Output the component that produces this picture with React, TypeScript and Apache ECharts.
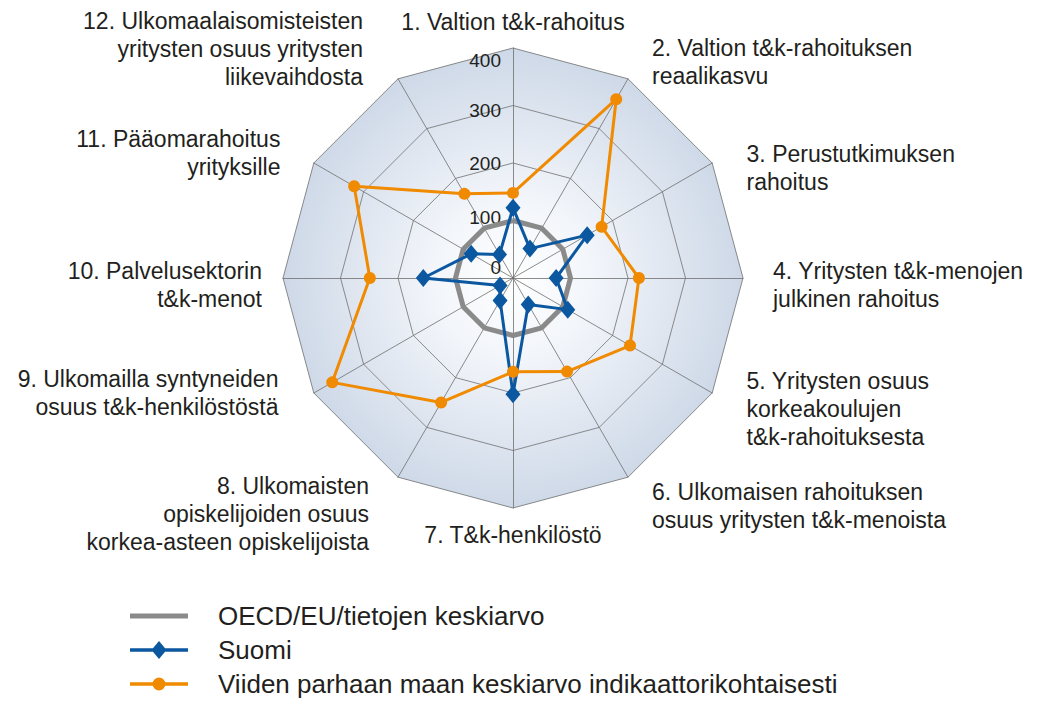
import React, { useEffect, useRef } from 'react';
import * as echarts from 'echarts';

const indicatorNames = [
  '1. Valtion t&k-rahoitus',
  '2. Valtion t&k-rahoituksen\nreaalikasvu',
  '3. Perustutkimuksen\nrahoitus',
  '4. Yritysten t&k-menojen\njulkinen rahoitus',
  '5. Yritysten osuus\nkorkeakoulujen\nt&k-rahoituksesta',
  '6. Ulkomaisen rahoituksen\nosuus yritysten t&k-menoista',
  '7. T&k-henkilöstö',
  '8. Ulkomaisten\nopiskelijoiden osuus\nkorkea-asteen opiskelijoista',
  '9. Ulkomailla syntyneiden\nosuus t&k-henkilöstöstä',
  '10. Palvelusektorin\nt&k-menot',
  '11. Pääomarahoitus\nyrityksille',
  '12. Ulkomaalaisomisteisten\nyritysten osuus yritysten\nliikevaihdosta',
];

const seriesNames = [
  'OECD/EU/tietojen keskiarvo',
  'Suomi',
  'Viiden parhaan maan keskiarvo indikaattorikohtaisesti',
];

const oecdValues = [100, 100, 100, 100, 100, 100, 100, 100, 100, 100, 100, 100];
const suomiValues = [122, 59, 149, 75, 110, 53, 202, 45, 26, 156, 84, 47];
const top5Values = [148, 359, 178, 219, 235, 188, 163, 250, 363, 249, 319, 169];

const axisMax = 400;
const tickValues = [0, 100, 200, 300, 400];

// per-indicator label nudges [top, right, bottom, left] (style only)
const namePadding: number[][] = [
  [0, 0, 0, 0],
  [0, 0, 12, 18],
  [22, 0, 0, 24],
  [14, 0, 0, 18],
  [20, 0, 0, 24],
  [37, 0, 0, 18],
  [1, 0, 0, 0],
  [53, 23, 0, 0],
  [0, 25, 12, 0],
  [14, 9, 0, 0],
  [0, 23, 9, 0],
  [0, 29, 39, 0],
];
// per-tick label nudges [top, bottom]
const tickPadding: number[][] = [
  [0, 22],
  [0, 7],
  [0, 0],
  [9, 0],
  [24, 0],
];

// ECharts lays indicators counter-clockwise; reorder so they run clockwise.
const order = [0, 11, 10, 9, 8, 7, 6, 5, 4, 3, 2, 1];
const reorder = (arr: any[]) => order.map((i) => arr[i]);

const FONT = 'Liberation Sans, Arial, sans-serif';
const TEXT = '#231f20';
const GRAY = '#8a8a8a';
const BLUE = '#0b57a0';
const ORANGE = '#f08a00';

const speck = 'M0,0h0.01v0.01h-0.01Z M57.99,17.99h0.01v0.01h-0.01Z ';
const iconGray = 'path://' + speck + 'M0,6.5H58V11.5H0Z';
const iconBlue =
  'path://' + speck + 'M0,7.25H58V10.75H0Z M29,0L36.5,9L29,18L21.5,9Z';
const iconOrange =
  'path://' +
  speck +
  'M0,7.25H58V10.75H0Z M22.5,9A6.5,6.5 0 1 1 35.5,9A6.5,6.5 0 1 1 22.5,9Z';

export default function App() {
  const ref = useRef<HTMLDivElement>(null);
  useEffect(() => {
    if (!ref.current) return;
    const chart = echarts.init(ref.current, undefined, { renderer: 'svg' });
    const orderedPads = reorder(namePadding);
    const indicators = reorder(indicatorNames).map((name: string, k: number) => {
      const ind: any = {
        name,
        min: 0,
        max: axisMax,
        nameTextStyle: { padding: orderedPads[k] },
      };
      if (k === 0) {
        const rich: any = {};
        tickValues.forEach((v, i) => {
          rich['t' + i] = {
            color: TEXT,
            fontSize: 19,
            fontFamily: FONT,
            padding: [tickPadding[i][0], 0, tickPadding[i][1], 0],
          };
        });
        ind.axisLabel = {
          show: true,
          color: TEXT,
          fontSize: 19,
          fontFamily: FONT,
          margin: 12,
          formatter: (v: number) => {
            const i = tickValues.indexOf(v);
            return i >= 0 ? `{t${i}|${v}}` : String(v);
          },
          rich,
        };
      }
      return ind;
    });
    const grad = new echarts.graphic.RadialGradient(
      513,
      278,
      232,
      [
        { offset: 0, color: '#ffffff' },
        { offset: 0.35, color: '#f2f5fa' },
        { offset: 1, color: '#cdd8e7' },
      ],
      true
    );
    chart.setOption({
      animation: false,
      textStyle: { fontFamily: FONT },
      legend: {
        orient: 'vertical',
        left: 130,
        top: 603,
        height: 120,
        padding: 0,
        itemWidth: 58,
        itemHeight: 18,
        itemGap: 8,
        itemStyle: { borderWidth: 0 },
        data: [
          { name: seriesNames[0], icon: iconGray },
          { name: seriesNames[1], icon: iconBlue },
          { name: seriesNames[2], icon: iconOrange },
        ],
        textStyle: {
          color: TEXT,
          fontSize: 26,
          fontFamily: FONT,
          lineHeight: 20,
          padding: [0, 0, 0, 25],
        },
      },
      radar: {
        center: [513, 278],
        radius: 230,
        startAngle: 90,
        shape: 'polygon',
        splitNumber: 4,
        nameGap: 12,
        axisName: {
          color: TEXT,
          fontSize: 23,
          lineHeight: 28,
          fontFamily: FONT,
          rich: { x: { fontFamily: FONT } },
        },
        axisLabel: { show: false },
        axisTick: { show: false },
        axisLine: { lineStyle: { color: '#6e6e6e', width: 0.8 } },
        splitLine: { lineStyle: { color: '#6e6e6e', width: 0.8 } },
        splitArea: { areaStyle: { color: [grad, grad, grad, grad] } },
        indicator: indicators,
      },
      series: [
        {
          type: 'radar',
          z: 2,
          data: [
            {
              name: seriesNames[0],
              value: reorder(oecdValues),
              symbol: 'none',
              lineStyle: { color: GRAY, width: 5 },
              itemStyle: { color: GRAY },
            },
            {
              name: seriesNames[1],
              value: reorder(suomiValues),
              symbol: 'diamond',
              symbolSize: [15, 18],
              lineStyle: { color: BLUE, width: 3 },
              itemStyle: { color: BLUE },
            },
            {
              name: seriesNames[2],
              value: reorder(top5Values),
              symbol: 'circle',
              symbolSize: 12,
              lineStyle: { color: ORANGE, width: 3 },
              itemStyle: { color: ORANGE },
            },
          ],
        },
      ],
    });
    return () => chart.dispose();
  }, []);
  return (
    <div
      ref={ref}
      style={{ position: 'fixed', left: 0, top: 0, width: 1037, height: 704, background: '#fff' }}
    />
  );
}
